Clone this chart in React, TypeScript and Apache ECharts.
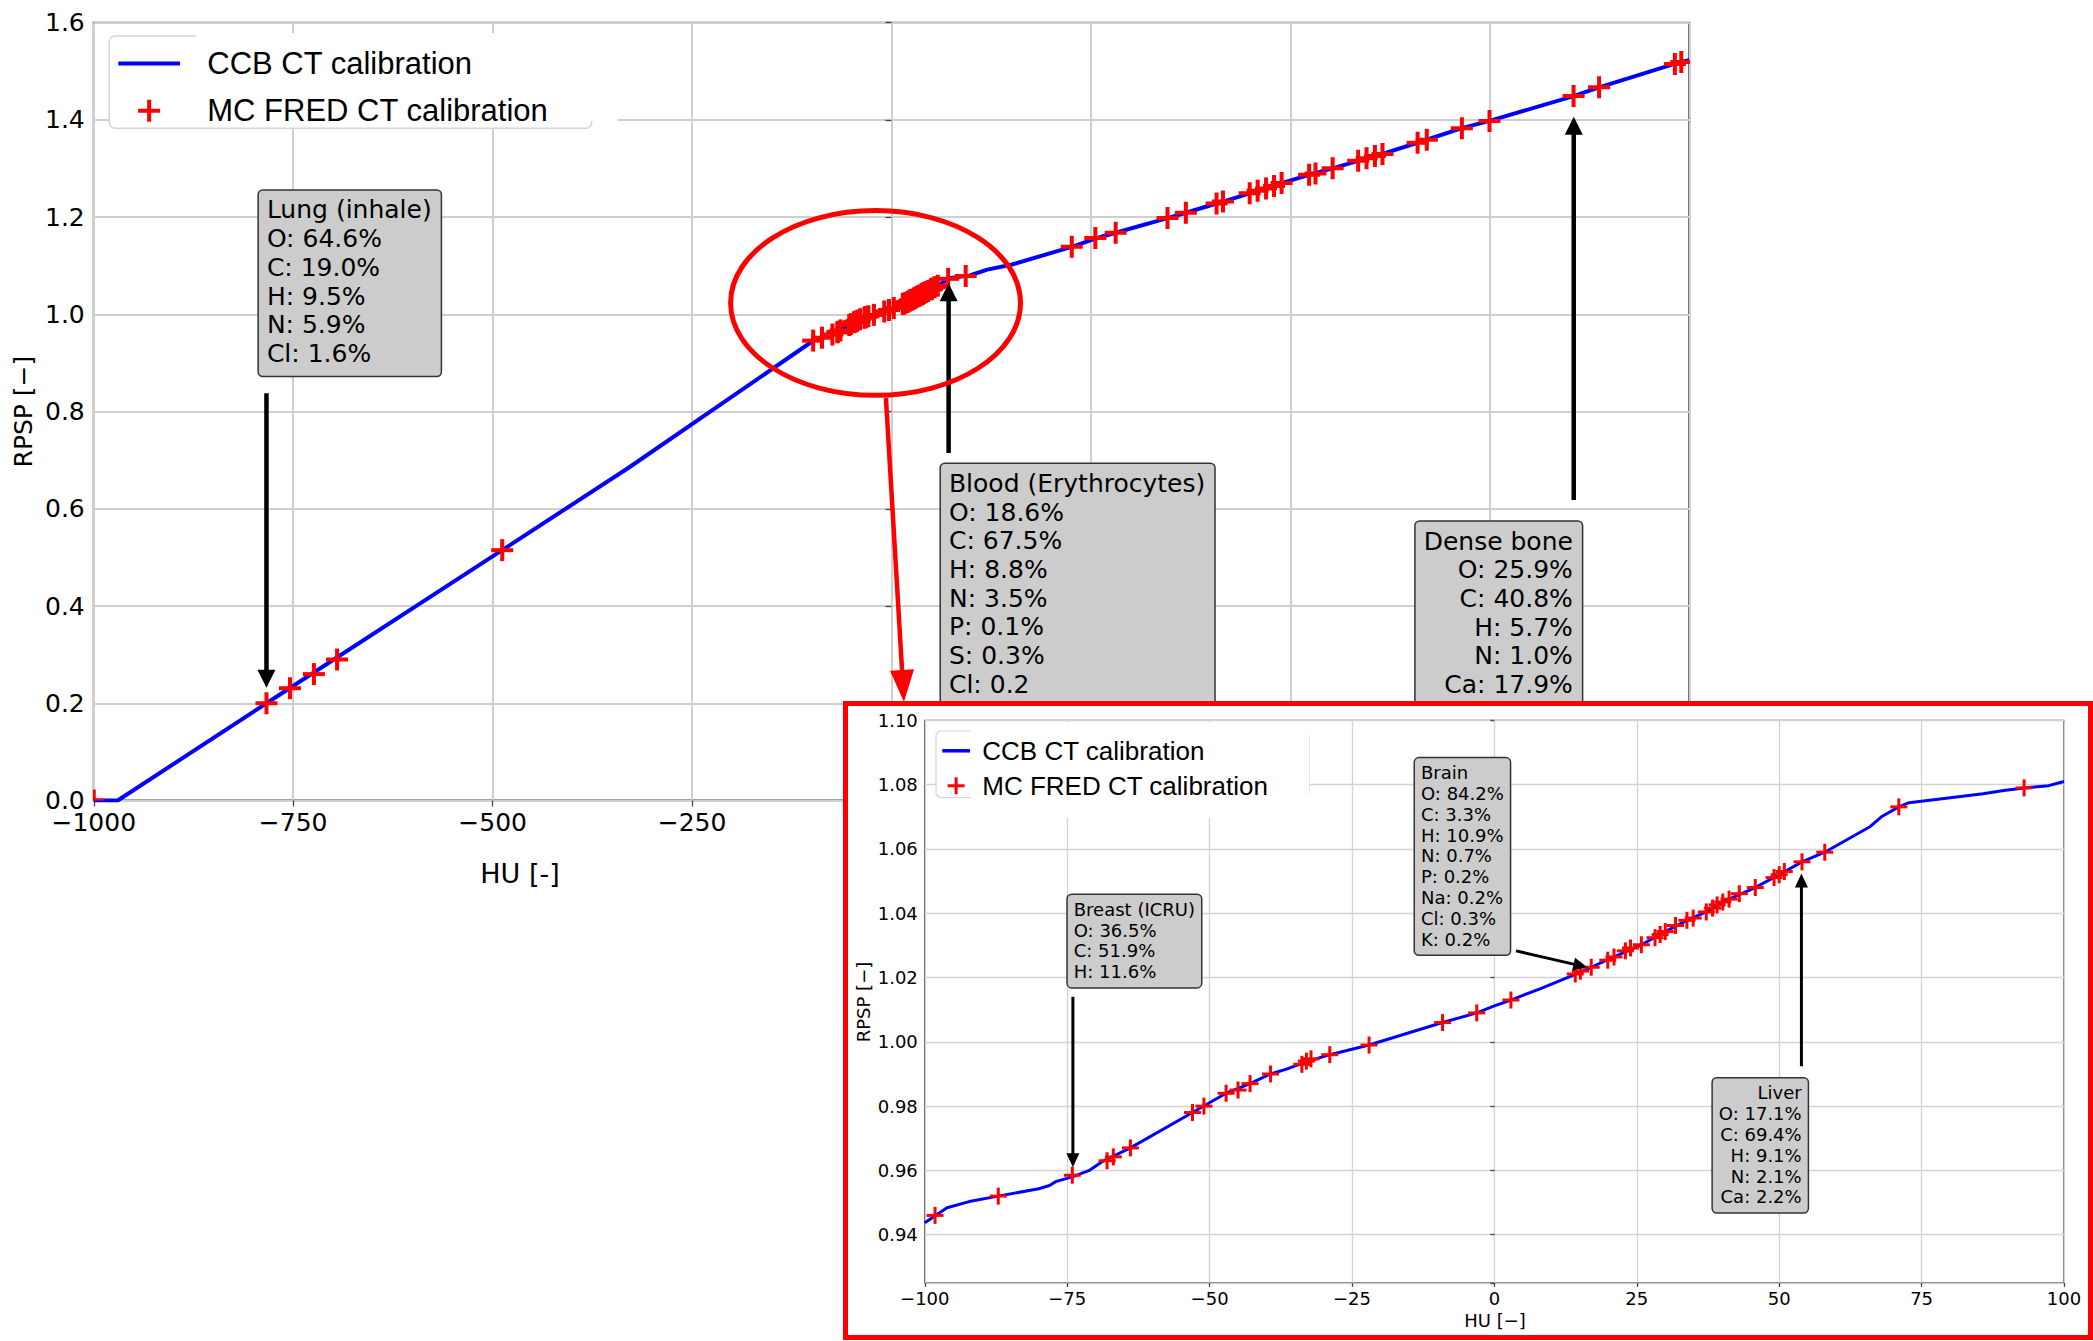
import React, { useEffect, useRef } from 'react';
import * as echarts from 'echarts';

const FONT = 'DejaVu Sans';
const LEGEND_FONT = 'Liberation Sans';
const BLUE = '#0000ff';
const RED = '#ff0000';

// ---- CCB CT calibration curve (HU, RPSP) ----
// low-density part
const ccbHuLow = [-1000, -970, -783.5, -488, -330];
const ccbRpspLow = [0, 0, 0.2, 0.515, 0.684];
// soft-tissue part (-100 .. 100 HU)
const ccbHuFine = [-100, -96.1, -92.2, -87.1, -80, -78.1, -76.9, -74.1, -71, -68.7, -63.9, -53, -49.1, -47.1, -42.9, -39.3, -36.5, -33.5, -28.9, -22, -9.1, -3.1, 0, 2.9, 8, 14.2, 17, 21, 25.8, 30, 33.8, 37.2, 41.2, 45.8, 50, 54, 58, 66, 68.1, 71, 72.8, 85.8, 89.4, 93, 97.3, 100];
const ccbRpspFine = [0.9437, 0.9484, 0.9503, 0.952, 0.9543, 0.9553, 0.9566, 0.958, 0.9601, 0.9629, 0.967, 0.978, 0.982, 0.984, 0.987, 0.99, 0.9915, 0.9935, 0.996, 0.999, 1.006, 1.009, 1.0112, 1.013, 1.0165, 1.021, 1.0232, 1.0264, 1.0302, 1.0343, 1.0378, 1.0404, 1.0444, 1.048, 1.052, 1.056, 1.059, 1.067, 1.0702, 1.0731, 1.0744, 1.0772, 1.0782, 1.079, 1.0797, 1.081];
// bone part
const ccbHuHigh = [120, 150, 226, 255.5, 281, 346, 369, 407.5, 449, 489, 523.5, 553, 595.5, 615.5, 659.5, 715, 749.6, 855, 887, 984.5, 1000];
const ccbRpspHigh = [1.092, 1.102, 1.139, 1.156, 1.168, 1.198, 1.209, 1.228, 1.249, 1.27, 1.287, 1.3005, 1.321, 1.33, 1.353, 1.383, 1.398, 1.449, 1.467, 1.517, 1.523];

// ---- MC FRED CT calibration points (HU, RPSP) ----
const mcHuLow = [-1000, -783.5, -754, -724, -695, -488];
const mcRpspLow = [0.0, 0.2, 0.231, 0.26, 0.29, 0.515];
const mcHuFine = [-98.2, -87.1, -74.1, -68, -66.9, -63.9, -53, -51, -47.1, -45, -42.9, -39.3, -33.8, -33, -32.2, -28.9, -22, -9.1, -3.1, 2.9, 14.2, 15.1, 17, 19.9, 21, 23, 23.9, 25.8, 28.2, 29.1, 30, 31.8, 33.8, 34.9, 37.2, 38.3, 39.1, 40.1, 41.2, 43, 45.8, 49.1, 50, 50.9, 54, 58, 71, 93];
const mcRpspFine = [0.946, 0.952, 0.9585, 0.963, 0.9642, 0.967, 0.978, 0.98, 0.984, 0.985, 0.987, 0.99, 0.993, 0.994, 0.9947, 0.996, 0.999, 1.006, 1.009, 1.013, 1.0211, 1.022, 1.0232, 1.0254, 1.0264, 1.0283, 1.0292, 1.0302, 1.0324, 1.0334, 1.0343, 1.0362, 1.0378, 1.0385, 1.0404, 1.0416, 1.0426, 1.0435, 1.0444, 1.0461, 1.048, 1.0511, 1.052, 1.053, 1.056, 1.059, 1.0731, 1.079];
const mcHuHigh = [226, 255.5, 281, 346, 369, 407.5, 415.5, 449, 459, 469.5, 479.5, 489, 523.5, 531.5, 553, 585, 595.5, 606, 615.5, 659.5, 671, 715, 749.6, 855, 887, 982, 990];
const mcRpspHigh = [1.139, 1.157, 1.168, 1.198, 1.209, 1.228, 1.232, 1.249, 1.2545, 1.259, 1.264, 1.27, 1.287, 1.29, 1.3005, 1.316, 1.321, 1.326, 1.33, 1.353, 1.359, 1.383, 1.398, 1.449, 1.467, 1.515, 1.519];

const LINE_NAME = 'CCB CT calibration';
const MC_NAME = 'MC FRED CT calibration';

// Tissue annotations: box anchor, arrow tail and tip in data coordinates
const mainNotes = [
  { lines: ['Lung (inhale)', 'O: 64.6%', 'C: 19.0%', 'H: 9.5%', 'N: 5.9%', 'Cl: 1.6%'], box: [-793, 1.2545], align: 'left', tail: [-783.5, 0.838], tip: [-783.5, 0.232] },
  { lines: ['Blood (Erythrocytes)', 'O: 18.6%', 'C: 67.5%', 'H: 8.8%', 'N: 3.5%', 'P: 0.1%', 'S: 0.3%', 'Cl: 0.2'], box: [62, 0.6922], align: 'left', tail: [71.6, 0.715], tip: [71.6, 1.064] },
  { lines: ['Dense bone', 'O: 25.9%', 'C: 40.8%', 'H: 5.7%', 'N: 1.0%', 'Ca: 17.9%'], box: [865.4, 0.5735], align: 'right', tail: [855.2, 0.618], tip: [855.2, 1.4067] },
];
const insetNotes = [
  { lines: ['Breast (ICRU)', 'O: 36.5%', 'C: 51.9%', 'H: 11.6%'], box: [-74.9, 1.0457], align: 'left', tail: [-74, 1.014], tip: [-74, 0.961] },
  { lines: ['Brain', 'O: 84.2%', 'C: 3.3%', 'H: 10.9%', 'N: 0.7%', 'P: 0.2%', 'Na: 0.2%', 'Cl: 0.3%', 'K: 0.2%'], box: [-13.94, 1.0882], align: 'left', tail: [3.8, 1.0283], tip: [16.3, 1.0232] },
  { lines: ['Liver', 'O: 17.1%', 'C: 69.4%', 'H: 9.1%', 'N: 2.1%', 'Ca: 2.2%'], box: [55.0, 0.9886], align: 'right', tail: [53.9, 0.9924], tip: [53.9, 1.0524] },
];

// zoom highlight: ellipse around the soft-tissue cluster and the pointer to the inset
const zoomCenter = [-20, 1.0235];
const zoomRadius = [181.7, 0.19];
const zoomPointer = { tail: [-7, 0.828], tip: [15.6, 0.2026] };

const zip = (xs: number[], ys: number[]) => xs.map((x, i) => [x, ys[i]]);
const minus = (v: number | string) => String(v).replace('-', '\u2212');

const crossPath = (s: number, t: number) => {
  const a = (s - t) / 2;
  const b = a + t;
  return `path://M${a},0H${b}V${a}H${s}V${b}H${b}V${s}H${a}V${b}H0V${a}H${a}Z`;
};
const barPath = (w: number, t: number) => `path://M0,0H${w}V${t}H0Z`;

function crossSeries(data: number[][], size: number, thick: number) {
  return {
    type: 'custom',
    name: MC_NAME,
    data,
    clip: true,
    z: 3,
    encode: { x: 0, y: 1 },
    itemStyle: { color: RED },
    renderItem: (_p: any, api: any) => {
      const p = api.coord([api.value(0), api.value(1)]);
      const h = size / 2;
      const t = thick / 2;
      return {
        type: 'group',
        children: [
          { type: 'rect', shape: { x: p[0] - h, y: p[1] - t, width: size, height: thick }, style: { fill: RED } },
          { type: 'rect', shape: { x: p[0] - t, y: p[1] - h, width: thick, height: size }, style: { fill: RED } },
        ],
      };
    },
  };
}

function arrowEls(chart: any, tail: number[], tip: number[], color: string, shaft: number, headW: number, headL: number, z: number) {
  const [x1, y1] = chart.convertToPixel({ gridIndex: 0 }, tail);
  const [x2, y2] = chart.convertToPixel({ gridIndex: 0 }, tip);
  const dx = x2 - x1;
  const dy = y2 - y1;
  const len = Math.hypot(dx, dy);
  const ux = dx / len;
  const uy = dy / len;
  const bx = x2 - ux * headL;
  const by = y2 - uy * headL;
  const px = -uy;
  const py = ux;
  return [
    { type: 'line', z, shape: { x1, y1, x2: bx + ux, y2: by + uy }, style: { stroke: color, lineWidth: shaft } },
    {
      type: 'polygon', z,
      shape: { points: [[x2, y2], [bx + (px * headW) / 2, by + (py * headW) / 2], [bx - (px * headW) / 2, by - (py * headW) / 2]] },
      style: { fill: color },
    },
  ];
}

function noteEl(chart: any, note: any, fontSize: number, lineHeight: number, padding: number[], z: number) {
  const [x, y] = chart.convertToPixel({ gridIndex: 0 }, note.box);
  return {
    type: 'text', x, y, z,
    style: {
      text: note.lines.join('\n'),
      fill: '#000',
      fontSize, fontFamily: FONT, lineHeight,
      align: note.align, verticalAlign: 'top',
      backgroundColor: '#cccccc', borderColor: '#333333', borderWidth: 1.5, borderRadius: 4,
      padding,
    },
  };
}

function axisCommon(fontSize: number, margin: number, gridColor: string, gridWidth: number, tickLen: number) {
  return {
    axisLine: { show: false },
    axisTick: { show: true, length: tickLen, lineStyle: { color: '#444', width: 1.3 } },
    axisLabel: { fontSize, color: '#000', fontFamily: FONT, margin },
    splitLine: { show: true, lineStyle: { color: gridColor, width: gridWidth } },
  };
}

function mainOption() {
  const ax = axisCommon(25, 9, '#cfcfcf', 2, 6);
  const legendText = { fontSize: 31, color: '#000', fontFamily: LEGEND_FONT, lineHeight: 22 };
  return {
    animation: false,
    backgroundColor: '#ffffff',
    textStyle: { fontFamily: FONT },
    grid: { left: 93.75, top: 22.7, width: 1595.5, height: 777.8, show: true, borderColor: '#444', borderWidth: 2, backgroundColor: 'transparent' },
    xAxis: {
      type: 'value', min: -1000, max: 1000, interval: 250, ...ax,
      // tick labels right of -250 sit beneath the inset panel
      axisLabel: { ...ax.axisLabel, formatter: (v: number) => (v <= -250 ? minus(v) : '') },
    },
    yAxis: {
      type: 'value', min: 0, max: 1.6, interval: 0.2, ...ax,
      axisLabel: { ...ax.axisLabel, formatter: (v: number) => v.toFixed(1) },
    },
    legend: {
      orient: 'vertical', left: 109, top: 35, z: 7,
      padding: [13, 36, 14, 9.3], itemWidth: 61.7, itemHeight: 22, itemGap: 15.7,
      backgroundColor: 'transparent', borderWidth: 0,
      itemStyle: { borderWidth: 0 },
      textStyle: legendText,
      data: [
        { name: LINE_NAME, icon: barPath(61.7, 4), itemStyle: { color: BLUE }, textStyle: { ...legendText, padding: [0, 0, 0, 22.3] } },
        { name: MC_NAME, icon: crossPath(22, 4), itemStyle: { color: RED }, textStyle: { ...legendText, padding: [10, 0, 0, 22.3] } },
      ],
    },
    series: [
      {
        type: 'line', name: LINE_NAME, symbol: 'none', z: 2,
        data: [...zip(ccbHuLow, ccbRpspLow), ...zip(ccbHuFine, ccbRpspFine), ...zip(ccbHuHigh, ccbRpspHigh)],
        lineStyle: { color: BLUE, width: 4 }, itemStyle: { color: BLUE },
      },
      crossSeries([...zip(mcHuLow, mcRpspLow), ...zip(mcHuFine, mcRpspFine), ...zip(mcHuHigh, mcRpspHigh)], 22, 4),
    ],
  };
}

function mainGraphics(chart: any) {
  const els: any[] = [];
  els.push({ type: 'rect', z: 5, shape: { x: 109.3, y: 36, width: 482.4, height: 92.3, r: 6 }, style: { fill: '#ffffff', stroke: '#d5d5d5', lineWidth: 1.5 } });
  els.push({ type: 'rect', z: 6, shape: { x: 196, y: 33, width: 422, height: 88 }, style: { fill: '#ffffff' } });
  els.push({ type: 'text', x: 520, y: 873, z: 5, style: { text: 'HU [-]', fontSize: 27, fontFamily: FONT, fill: '#000', align: 'center', verticalAlign: 'middle' } });
  els.push({ type: 'text', x: 23.5, y: 411.6, rotation: Math.PI / 2, z: 5, style: { text: 'RPSP [\u2212]', fontSize: 25, fontFamily: FONT, fill: '#000', align: 'center', verticalAlign: 'middle' } });
  mainNotes.forEach((n) => {
    els.push(...arrowEls(chart, n.tail, n.tip, '#000', 4.5, 18, 18, 10));
    els.push(noteEl(chart, n, 25, 28.7, [5, 9, 8, 8], 10));
  });
  const c = chart.convertToPixel({ gridIndex: 0 }, zoomCenter);
  const e = chart.convertToPixel({ gridIndex: 0 }, [zoomCenter[0] + zoomRadius[0], zoomCenter[1] - zoomRadius[1]]);
  els.push({ type: 'ellipse', z: 11, shape: { cx: c[0], cy: c[1], rx: e[0] - c[0], ry: e[1] - c[1] }, style: { fill: 'none', stroke: RED, lineWidth: 5 } });
  els.push(...arrowEls(chart, zoomPointer.tail, zoomPointer.tip, RED, 4.5, 24, 32, 11));
  return els;
}

function insetOption() {
  const ax = axisCommon(18, 7, '#d3d3d3', 1.3, 4);
  const legendText = { fontSize: 26, color: '#000', fontFamily: LEGEND_FONT, lineHeight: 17, padding: [4, 0, 0, 7.3] };
  return {
    animation: false,
    backgroundColor: '#ffffff',
    textStyle: { fontFamily: FONT },
    grid: { left: 76.8, top: 14.4, width: 1139.2, height: 562.5, show: true, borderColor: '#444', borderWidth: 1.3, backgroundColor: 'transparent' },
    xAxis: {
      type: 'value', min: -100, max: 100, interval: 25, ...ax,
      axisLabel: { ...ax.axisLabel, formatter: (v: number) => minus(v) },
    },
    yAxis: {
      type: 'value', min: 0.925, max: 1.1, splitNumber: 8, minInterval: 0.02, maxInterval: 0.02, ...ax,
      axisLabel: {
        ...ax.axisLabel,
        formatter: (v: number) => (Math.abs(v / 0.02 - Math.round(v / 0.02)) < 1e-6 ? v.toFixed(2) : ''),
      },
    },
    legend: {
      orient: 'vertical', left: 87, top: 24.6, z: 7,
      padding: [7.2, 10, 9, 7.3], itemWidth: 27.7, itemHeight: 17, itemGap: 9,
      backgroundColor: 'transparent', borderWidth: 0,
      itemStyle: { borderWidth: 0 },
      textStyle: legendText,
      data: [
        { name: LINE_NAME, icon: barPath(27.7, 3.5), itemStyle: { color: BLUE } },
        { name: MC_NAME, icon: crossPath(17, 3), itemStyle: { color: RED } },
      ],
    },
    series: [
      {
        type: 'line', name: LINE_NAME, symbol: 'none', z: 2,
        data: zip(ccbHuFine, ccbRpspFine),
        lineStyle: { color: BLUE, width: 3 }, itemStyle: { color: BLUE },
      },
      crossSeries(zip(mcHuFine, mcRpspFine), 17, 3),
    ],
  };
}

function insetGraphics(chart: any) {
  const els: any[] = [];
  els.push({ type: 'rect', z: 5, shape: { x: 88, y: 25, width: 373, height: 66.5, r: 5 }, style: { fill: '#ffffff', stroke: '#d5d5d5', lineWidth: 1.2 } });
  els.push({ type: 'rect', z: 6, shape: { x: 122.3, y: 16, width: 338.7, height: 96 }, style: { fill: '#ffffff' } });
  els.push({ type: 'text', x: 647, y: 614, z: 5, style: { text: 'HU [\u2212]', fontSize: 18, fontFamily: FONT, fill: '#000', align: 'center', verticalAlign: 'middle' } });
  els.push({ type: 'text', x: 15, y: 296, rotation: Math.PI / 2, z: 5, style: { text: 'RPSP [\u2212]', fontSize: 18, fontFamily: FONT, fill: '#000', align: 'center', verticalAlign: 'middle' } });
  insetNotes.forEach((n) => {
    els.push(...arrowEls(chart, n.tail, n.tip, '#000', 3, 13, 14, 10));
    els.push(noteEl(chart, n, 18, 20.8, [4, 6, 5, 6], 10));
  });
  return els;
}

export default function App() {
  const mainRef = useRef<HTMLDivElement>(null);
  const insetRef = useRef<HTMLDivElement>(null);

  useEffect(() => {
    const main = echarts.init(mainRef.current as HTMLDivElement, null, { renderer: 'svg' });
    main.setOption(mainOption() as any);
    main.setOption({ graphic: mainGraphics(main) } as any);

    const inset = echarts.init(insetRef.current as HTMLDivElement, null, { renderer: 'svg' });
    inset.setOption(insetOption() as any);
    inset.setOption({ graphic: insetGraphics(inset) } as any);

    return () => {
      main.dispose();
      inset.dispose();
    };
  }, []);

  return (
    <div style={{ position: 'absolute', left: 0, top: 0, width: 2093, height: 1341, background: '#ffffff', overflow: 'hidden' }}>
      <div ref={mainRef} style={{ position: 'absolute', left: 0, top: 0, width: 2093, height: 1341 }} />
      <div
        style={{
          position: 'absolute', left: 843, top: 701, width: 1250, height: 639,
          boxSizing: 'border-box', border: '5px solid #ff0000', background: '#ffffff',
        }}
      >
        <div ref={insetRef} style={{ width: 1240, height: 629 }} />
      </div>
    </div>
  );
}
